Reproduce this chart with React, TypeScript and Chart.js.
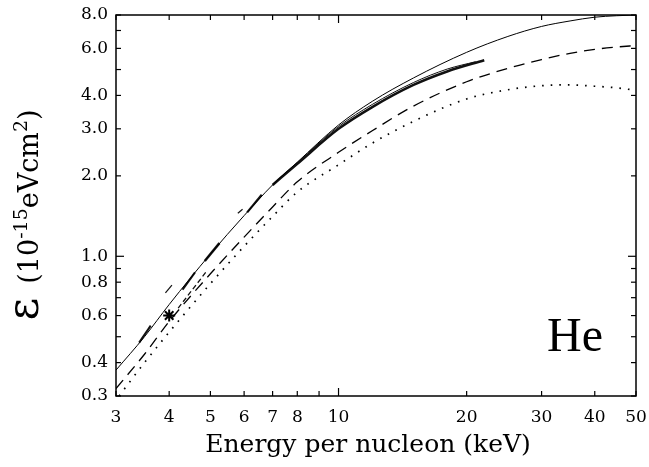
import React, { useEffect, useRef } from 'react';
import { Chart, registerables } from 'chart.js';

Chart.register(...registerables);

// ---- data (energy per nucleon in keV, stopping cross-section in 1e-15 eV cm^2) ----
const energy = [3, 3.5, 4, 5, 6, 7, 8, 10, 12, 15, 20, 25, 30, 35, 40, 45, 50];
const theorySolid = [0.375, 0.5, 0.66, 1.02, 1.42, 1.85, 2.25, 3.1, 3.8, 4.65, 5.8, 6.65, 7.25, 7.6, 7.85, 7.95, 8.0];
const theoryDashed = [0.32, 0.43, 0.57, 0.86, 1.18, 1.53, 1.9, 2.45, 2.95, 3.65, 4.5, 5.05, 5.45, 5.75, 5.95, 6.07, 6.15];
const energyDotted = [3.05, 3.5, 4, 5, 6, 7, 8, 10, 12, 15, 20, 25, 30, 35, 40, 45, 50];
const theoryDotted = [0.3, 0.4, 0.52, 0.79, 1.09, 1.41, 1.74, 2.2, 2.65, 3.2, 3.88, 4.2, 4.35, 4.38, 4.33, 4.27, 4.18];

// experimental data segments
const expE1 = [3.4, 3.62];
const expV1 = [0.475, 0.55];
const expE2 = [3.92, 4.06];
const expV2 = [0.73, 0.78];
const expE3 = [4.3, 4.6];
const expV3 = [0.75, 0.87];
const expE4 = [4.85, 5.25];
const expV4 = [0.96, 1.12];
const expE5 = [5.8, 5.95];
const expV5 = [1.45, 1.5];
const expE6 = [6.1, 6.6];
const expV6 = [1.46, 1.7];
const expE7 = [7, 8, 10, 12, 15, 18, 22];
const expV7 = [1.85, 2.22, 3.0, 3.62, 4.38, 4.92, 5.42];
const expE8 = [8.5, 10, 12, 15, 18, 21];
const expV8 = [2.45, 3.06, 3.7, 4.47, 5.02, 5.35];
const expDashE = [4.2, 4.9];
const expDashV = [0.64, 0.88];
const markerE = [4];
const markerV = [0.6];

// ---- axes ----
const xTicks = [3, 4, 5, 6, 7, 8, 9, 10, 20, 30, 40, 50];
const xLabels = [3, 4, 5, 6, 7, 8, 10, 20, 30, 40, 50];
const xLongTicks = [10];
const yTicks = [0.3, 0.4, 0.5, 0.6, 0.7, 0.8, 0.9, 1, 2, 3, 4, 5, 6, 7, 8];
const yLabels = [0.3, 0.4, 0.6, 0.8, 1, 2, 3, 4, 6, 8];
const yLongTicks = [1];

const xTitle = 'Energy per nucleon (keV)';
const panelLabel = 'He';

const pts = (xs: number[], ys: number[]) => xs.map((x, i) => ({ x, y: ys[i] }));

const SERIF = "'DejaVu Serif', serif";

const framePlugin = {
  id: 'frame',
  afterDraw(chart: any) {
    const { ctx, chartArea: a, scales } = chart;
    const x = scales.x;
    const y = scales.y;
    ctx.save();
    ctx.strokeStyle = '#000';
    ctx.lineWidth = 1.5;
    ctx.strokeRect(a.left, a.top, a.right - a.left, a.bottom - a.top);
    ctx.lineWidth = 1.2;
    const seg = (x1: number, y1: number, x2: number, y2: number) => {
      ctx.beginPath();
      ctx.moveTo(x1, y1);
      ctx.lineTo(x2, y2);
      ctx.stroke();
    };
    xTicks.forEach((v) => {
      const px = x.getPixelForValue(v);
      const len = xLongTicks.includes(v) ? 8 : 5;
      seg(px, a.bottom, px, a.bottom - len);
      seg(px, a.top, px, a.top + len);
    });
    yTicks.forEach((v) => {
      const py = y.getPixelForValue(v);
      const len = yLongTicks.includes(v) ? 8 : 5;
      seg(a.left, py, a.left + len, py);
      seg(a.right, py, a.right - len, py);
    });

    // y-axis title with superscripts, rotated
    ctx.fillStyle = '#000';
    ctx.textBaseline = 'alphabetic';
    const parts = [
      { t: '\u03b5 ', size: 44, dy: 0 },
      { t: '(10', size: 27, dy: 0 },
      { t: '-15', size: 19, dy: -11 },
      { t: 'eVcm', size: 27, dy: 0 },
      { t: '2', size: 19, dy: -11 },
      { t: ')', size: 27, dy: 0 },
    ];
    let total = 0;
    const widths = parts.map((p) => {
      ctx.font = `${p.size}px ${SERIF}`;
      const w = ctx.measureText(p.t).width;
      total += w;
      return w;
    });
    ctx.save();
    ctx.translate(38, 215);
    ctx.rotate(-Math.PI / 2);
    let cx = -total / 2;
    parts.forEach((p, i) => {
      ctx.font = `${p.size}px ${SERIF}`;
      ctx.fillText(p.t, cx, p.dy);
      cx += widths[i];
    });
    ctx.restore();

    // x-axis title
    ctx.font = `25px ${SERIF}`;
    ctx.textAlign = 'center';
    ctx.fillText(xTitle, 368, 452);

    // panel label
    ctx.font = "48px 'Liberation Serif', serif";
    ctx.textAlign = 'left';
    ctx.fillText(panelLabel, 547, 351);
    ctx.restore();
  },
};

export default function App() {
  const ref = useRef<HTMLCanvasElement>(null);
  useEffect(() => {
    if (!ref.current) return;
    const black = '#000';
    const expStyle = (w: number) => ({
      borderColor: '#111',
      borderWidth: w,
      pointRadius: 0,
      showLine: true,
      fill: false,
    });
    const chart = new Chart(ref.current, {
      type: 'line',
      data: {
        datasets: [
          {
            data: pts(energy, theorySolid),
            borderColor: black,
            borderWidth: 1,
            pointRadius: 0,
            cubicInterpolationMode: 'monotone',
          },
          {
            data: pts(energy, theoryDashed),
            borderColor: black,
            borderWidth: 1.3,
            borderDash: [11, 7],
            pointRadius: 0,
            cubicInterpolationMode: 'monotone',
          },
          {
            data: pts(energyDotted, theoryDotted),
            borderColor: black,
            borderWidth: 1.7,
            borderDash: [1.6, 7],
            pointRadius: 0,
            cubicInterpolationMode: 'monotone',
          },
          { data: pts(expE1, expV1), ...expStyle(2) },
          { data: pts(expE2, expV2), ...expStyle(1.2) },
          { data: pts(expE3, expV3), ...expStyle(2) },
          { data: pts(expE4, expV4), ...expStyle(2.5) },
          { data: pts(expE5, expV5), ...expStyle(1.2) },
          { data: pts(expE6, expV6), ...expStyle(2.2) },
          { data: pts(expE7, expV7), ...expStyle(2.6), cubicInterpolationMode: 'monotone' },
          { data: pts(expE8, expV8), ...expStyle(1), cubicInterpolationMode: 'monotone' },
          { data: pts(expDashE, expDashV), ...expStyle(1.3), borderDash: [5, 3] },
          {
            data: pts(markerE, markerV),
            showLine: false,
            pointStyle: 'star',
            pointRadius: 6,
            borderWidth: 2,
            borderColor: black,
            backgroundColor: black,
          },
        ] as any,
      },
      options: {
        animation: false,
        responsive: false,
        events: [],
        layout: { padding: { left: 0, top: 15, right: 13, bottom: 0 } },
        plugins: { legend: { display: false }, tooltip: { enabled: false } },
        scales: {
          x: {
            type: 'logarithmic',
            min: 3,
            max: 50,
            afterBuildTicks: (s: any) => {
              s.ticks = xTicks.map((v) => ({ value: v }));
            },
            afterFit: (s: any) => {
              s.height = 71;
              s.paddingLeft = 0;
              s.paddingRight = 0;
            },
            grid: { display: false, drawTicks: false },
            border: { display: false },
            ticks: {
              autoSkip: false,
              maxRotation: 0,
              padding: 11,
              color: black,
              font: { family: SERIF, size: 17 },
              callback: (v: any) => (xLabels.includes(Number(v)) ? String(v) : ''),
            },
          },
          y: {
            type: 'logarithmic',
            min: 0.3,
            max: 8,
            afterBuildTicks: (s: any) => {
              s.ticks = yTicks.map((v) => ({ value: v }));
            },
            afterFit: (s: any) => {
              s.width = 116;
              s.paddingTop = 0;
              s.paddingBottom = 0;
            },
            grid: { display: false, drawTicks: false },
            border: { display: false },
            ticks: {
              autoSkip: false,
              padding: 8,
              color: black,
              font: { family: SERIF, size: 17 },
              callback: (v: any) => (yLabels.includes(Number(v)) ? Number(v).toFixed(1) : ''),
            },
          },
        },
      } as any,
      plugins: [framePlugin],
    });
    return () => chart.destroy();
  }, []);
  return (
    <div style={{ position: 'absolute', left: 0, top: 0, width: 649, height: 467, background: '#fff' }}>
      <canvas ref={ref} width={649} height={467} style={{ display: 'block' }} />
    </div>
  );
}
